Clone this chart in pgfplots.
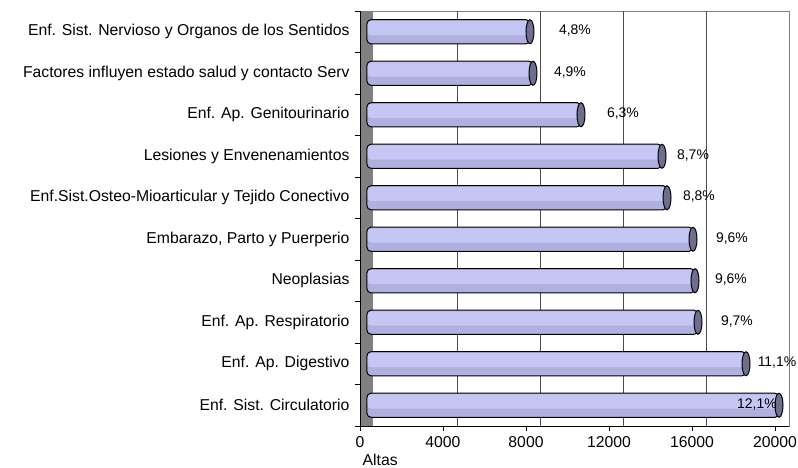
\documentclass[border=0pt]{standalone}
\usepackage{fontspec}
\setmainfont{Liberation Sans}
\usepackage{pgfplots}
\usepackage{pgfplotstable}
\pgfplotsset{compat=1.18}

\definecolor{barLight}{RGB}{198,198,244}
\definecolor{barBase}{RGB}{176,176,222}
\definecolor{capcol}{RGB}{110,110,142}
\definecolor{wallcol}{RGB}{128,128,128}

% bar ends (Altas) per category, 0 = bottom
\pgfplotstableread{
idx val
0 19855
1 18265
2 15952
3 15807
4 15711
5 14458
6 14217
7 10313
8 8000
9 7855
}\altas

% share labels, placed right of the bar ends
\pgfplotstableread{
idx lx lab
0 18795 {12,1\%}
1 19759 {11,1\%}
2 17831 {9,7\%}
3 17542 {9,6\%}
4 17590 {9,6\%}
5 16000 {8,8\%}
6 15711 {8,7\%}
7 12337 {6,3\%}
8 9783 {4,9\%}
9 10024 {4,8\%}
}\shares

\pgfdeclareplotmark{cap}{%
  \pgfpathellipse{\pgfpointorigin}{\pgfqpoint{4bp}{0pt}}{\pgfqpoint{0pt}{12bp}}%
  \pgfusepathqfillstroke}

\begin{document}
\begin{tikzpicture}
\useasboundingbox (0,0) rectangle (798bp,468bp);
\begin{axis}[
    at={(360bp,42bp)}, anchor=south west,
    scale only axis,
    width=429bp, height=415bp,
    xmin=-337, xmax=20337,
    ymin=-0.5, ymax=9.5,
    scaled x ticks=false,
    xtick={-337,3663,7663,11663,15663,19663},
    xticklabels={0,4000,8000,12000,16000,20000},
    extra x ticks={4337,8337,12337,16337},
    extra x tick labels={},
    extra x tick style={xmajorgrids=true, major tick length=0pt},
    ytick={0,...,9},
    yticklabels={Enf. Sist. Circulatorio, Enf. Ap. Digestivo, Enf. Ap. Respiratorio,
      Neoplasias, {Embarazo, Parto y Puerperio},
      Enf.Sist.Osteo-Mioarticular y Tejido Conectivo, Lesiones y Envenenamientos,
      Enf. Ap. Genitourinario, Factores influyen estado salud y contacto Serv,
      Enf. Sist. Nervioso y Organos de los Sentidos},
    minor ytick={-0.5,0.5,...,9.5},
    tick pos=left, tick align=outside,
    major tick length=5bp, minor tick length=5bp,
    every major y tick/.append style={draw=none},
    every minor y tick/.append style={draw=black},
    xtick style={draw=black},
    grid style={black!70, line width=0.8pt},
    axis line style={wallcol},
    yticklabel style={font=\fontsize{15.8}{18}\selectfont, xshift=-2bp},
    xticklabel style={font=\fontsize{15.8}{18}\selectfont, yshift=-2bp},
    /pgf/number format/assume math mode=true,
    xlabel={Altas},
    xlabel style={font=\fontsize{15.8}{18}\selectfont, at={(axis description cs:0.047,0)},
      anchor=base, inner sep=0pt, yshift=-39bp},
    clip=false,
]
\fill[wallcol] (axis cs:-337,-0.5) rectangle (axis cs:289,9.5);
\draw[black, line width=0.8pt] (rel axis cs:0,1) -- (rel axis cs:0,0) -- (rel axis cs:1,0);
% cylinder body: base fill, light upper band, outline
\addplot[xbar, bar width=0.58, draw=none, fill=barBase, rounded corners=4bp]
    table[x=val, y=idx] {\altas};
\addplot[xbar, bar width=0.34, bar shift=0.09, draw=none, fill=barLight, rounded corners=4bp]
    table[x=val, y=idx] {\altas};
\addplot[xbar, bar width=0.58, draw=black, fill=none, line width=1pt, rounded corners=4bp]
    table[x=val, y=idx] {\altas};
% end caps
\addplot[only marks, mark=cap, mark options={fill=capcol, draw=black, line width=1pt}]
    table[x=val, y=idx] {\altas};
\addplot[draw=none, mark=none, nodes near coords, point meta=explicit symbolic,
    nodes near coords style={anchor=center, font=\fontsize{14}{16}\selectfont, yshift=1bp}]
    table[x=lx, y=idx, meta=lab] {\shares};
\end{axis}
\end{tikzpicture}
\end{document}
